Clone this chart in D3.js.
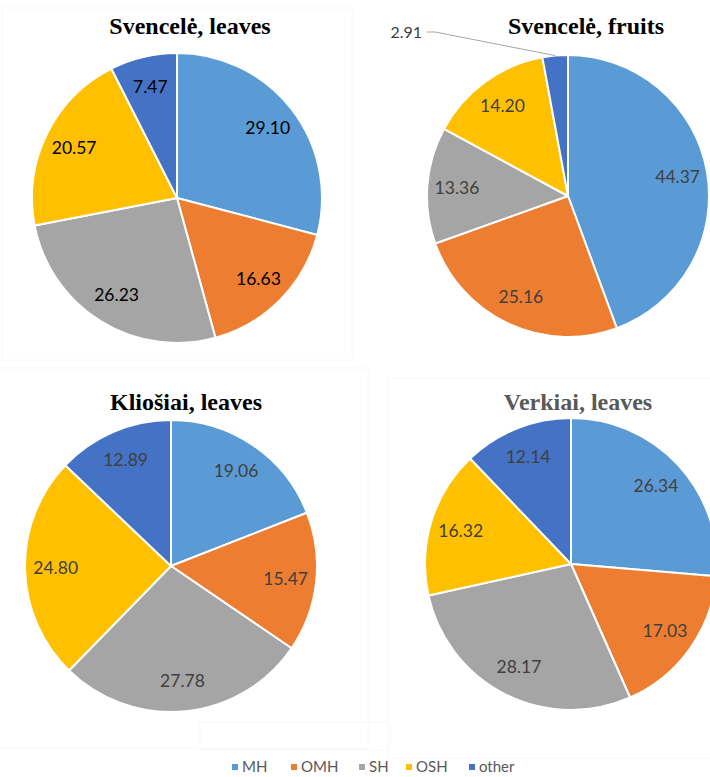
<!DOCTYPE html>
<html>
<head>
<meta charset="utf-8">
<script src="https://cdn.jsdelivr.net/npm/d3@7"></script>
<style>
  body { margin: 0; background: #fff; }
  svg { display: block; }
</style>
</head>
<body>
<div id="chart"></div>
<script>
// data
var categories = ["MH", "OMH", "SH", "OSH", "other"];
var colours = ["#5B9BD5", "#ED7D31", "#A5A5A5", "#FFC000", "#4472C4"];
var titles = ["Svencelė, leaves", "Svencelė, fruits", "Kliošiai, leaves", "Verkiai, leaves"];
var svencLeaves = [29.10, 16.63, 26.23, 20.57, 7.47];
var svencFruits = [44.37, 25.16, 13.36, 14.20, 2.91];
var kliosLeaves = [19.06, 15.47, 27.78, 24.80, 12.89];
var verkLeaves  = [26.34, 17.03, 28.17, 16.32, 12.14];
var series = [svencLeaves, svencFruits, kliosLeaves, verkLeaves];

// layout for each panel
var panels = [
  { cx: 177, cy: 198, r: 145, tx: 190, ty: 34, titleCol: "#000", labCol: "#000" },
  { cx: 568, cy: 196, r: 141, tx: 586, ty: 34, titleCol: "#000", labCol: "#404040" },
  { cx: 171, cy: 566, r: 146, tx: 186, ty: 410, titleCol: "#000", labCol: "#404040" },
  { cx: 571, cy: 564, r: 146, tx: 578, ty: 410, titleCol: "#595959", labCol: "#404040" }
];

var W = 710, H = 777;
var svg = d3.select("#chart").append("svg").attr("width", W).attr("height", H);

// faint chart area borders
var frames = [[2, 8, 350, 352], [388, 378, 330, 380], [-2, 368, 370, 380], [200, 722, 190, 28]];
svg.selectAll("rect.frame").data(frames).enter().append("rect")
  .attr("x", d => d[0]).attr("y", d => d[1]).attr("width", d => d[2]).attr("height", d => d[3])
  .attr("fill", "none").attr("stroke", "#f8f8f8").attr("stroke-width", 1);

var pie = d3.pie().sort(null).value(d => d);
var colour = d3.scaleOrdinal().domain(categories).range(colours);

panels.forEach(function(p, i) {
  var g = svg.append("g").attr("transform", "translate(" + p.cx + "," + p.cy + ")");
  var arc = d3.arc().innerRadius(0).outerRadius(p.r);
  var labelArc = d3.arc().innerRadius(p.r * 0.79).outerRadius(p.r * 0.79);
  var arcs = pie(series[i]);

  g.selectAll("path").data(arcs).enter().append("path")
    .attr("d", arc)
    .attr("fill", (d, j) => colour(categories[j]))
    .attr("stroke", "#fff").attr("stroke-width", 2).attr("stroke-linejoin", "round");

  arcs.forEach(function(d, j) {
    var small = d.value < 5;
    if (!small) {
      var c = labelArc.centroid(d);
      g.append("text")
        .attr("x", c[0]).attr("y", c[1])
        .attr("text-anchor", "middle").attr("dy", "0.35em")
        .style("font-family", "Lato, 'Open Sans', sans-serif")
        .style("font-size", "17.5px")
        .attr("fill", p.labCol)
        .text(d.value.toFixed(2));
    } else {
      // outside label with leader line
      var a = (d.startAngle + d.endAngle) / 2;
      var ex = p.r * Math.sin(a), ey = -p.r * Math.cos(a);
      var lx = -143, ly = -164;
      g.append("polyline")
        .attr("points", [[lx + 2, ly], [lx + 10, ly], [ex, ey]].map(q => q.join(",")).join(" "))
        .attr("fill", "none").attr("stroke", "#a6a6a6").attr("stroke-width", 1);
      g.append("text")
        .attr("x", lx - 3).attr("y", ly)
        .attr("text-anchor", "end").attr("dy", "0.35em")
        .style("font-family", "Lato, 'Open Sans', sans-serif")
        .style("font-size", "16px")
        .attr("fill", "#404040")
        .text(d.value.toFixed(2));
    }
  });

  svg.append("text")
    .attr("x", p.tx).attr("y", p.ty)
    .attr("text-anchor", "middle")
    .style("font-family", "'Liberation Serif', 'Times New Roman', serif")
    .style("font-weight", "bold").style("font-size", "24px")
    .attr("fill", p.titleCol)
    .text(titles[i]);
});

// legend
var legendX = [232, 291, 359, 406, 469];
var leg = svg.append("g").selectAll("g").data(categories).enter().append("g")
  .attr("transform", (d, i) => "translate(" + legendX[i] + ",767)");
leg.append("rect").attr("x", 0).attr("y", -3).attr("width", 6).attr("height", 6)
  .attr("fill", d => colour(d));
leg.append("text").attr("x", 10).attr("dy", "0.35em")
  .style("font-family", "Lato, 'Open Sans', sans-serif").style("font-size", "15px")
  .attr("fill", "#595959")
  .text(d => d);
</script>
</body>
</html>
